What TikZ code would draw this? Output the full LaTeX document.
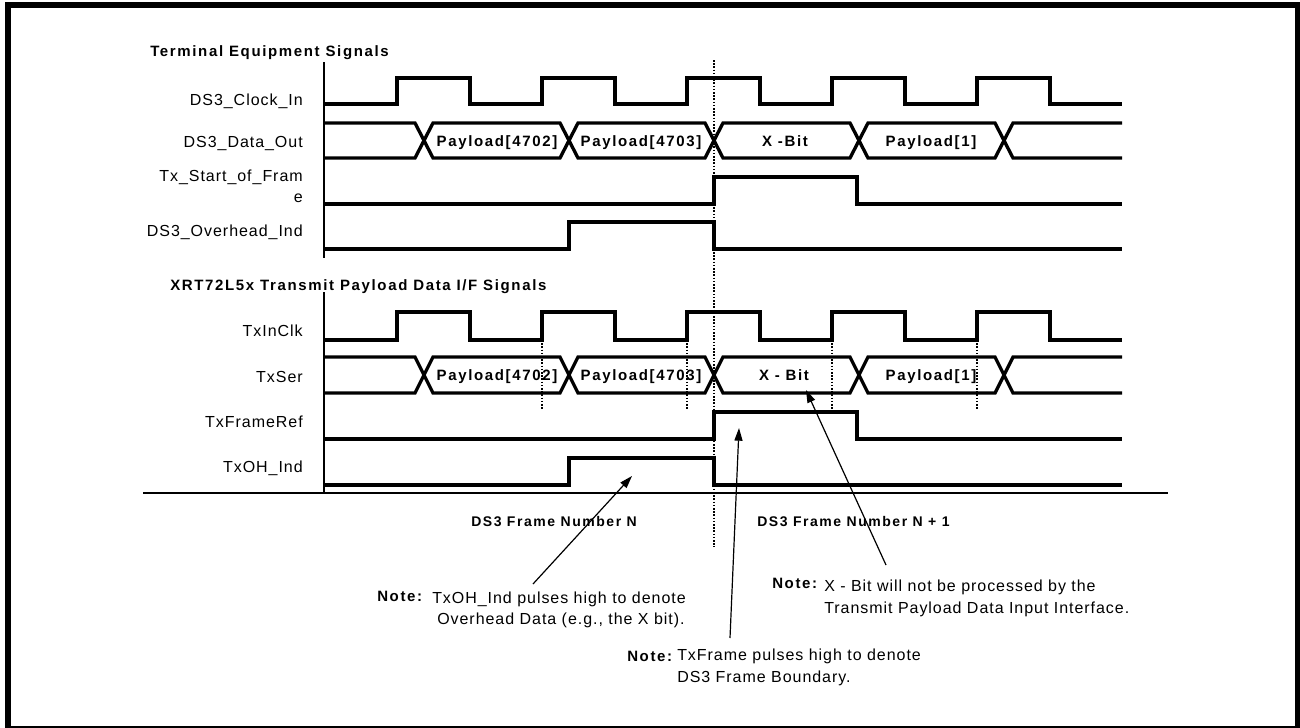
\documentclass[tikz,border=0pt]{standalone}
\usepackage{fontspec}
\setmainfont{Liberation Sans}
\newfontfamily\lblfont{Liberation Sans}[LetterSpace=6]
\newfontfamily\bldfont{Liberation Sans}[LetterSpace=11]
\usetikzlibrary{arrows.meta}
\tikzset{
  sig/.style={line width=2.5pt, line join=miter},
  axisline/.style={line width=1pt},
  dots/.style={line width=1pt, dash pattern=on 1.2pt off 1.2pt},
  arr/.style={line width=0.9pt, -{Triangle[length=9.5pt,width=6pt]}},
  lbl/.style={inner sep=0pt, anchor=base east, font=\lblfont\fontsize{12}{14}\selectfont},
  ntxt/.style={inner sep=0pt, anchor=base west, font=\lblfont\fontsize{12}{14}\selectfont},
  ttl/.style={inner sep=0pt, anchor=base west, font=\bldfont\bfseries\fontsize{11.25}{13}\selectfont},
  buslbl/.style={inner sep=0pt, anchor=base, font=\bldfont\bfseries\fontsize{11.25}{13}\selectfont},
  frm/.style={inner sep=0pt, anchor=base west, font=\bldfont\bfseries\fontsize{10.5}{12}\selectfont},
}
\begin{document}
\begin{tikzpicture}[x=0.75pt,y=-0.75pt]
\useasboundingbox (0,0) rectangle (1300,728);
\fill[white] (0,0) rectangle (1300,728);
\draw[line width=4.5pt] (8,5) rectangle (1298,729);

% titles
\node[ttl] (t1) at (150,56) {Terminal Equipment Signals};
\node[ttl] (t2) at (170,290) {XRT72L5x Transmit Payload Data I/F Signals};

% axes
\draw[axisline] (324,62) -- (324,258);
\draw[axisline] (324,292) -- (324,493);
\draw[line width=1.1pt] (143,493) -- (1168,493);

% frame boundary dotted line
\draw[dots] (714,60) -- (714,547);
\foreach \x in {542,687,832,977} \draw[dots] (\x,340) -- (\x,409);

% labels
\node[lbl] (l1) at (303,105) {DS3\_Clock\_In};
\node[lbl] (l2) at (303,147) {DS3\_Data\_Out};
\node[lbl] (l3a) at (303,181) {Tx\_Start\_of\_Fram};
\node[lbl] (l3b) at (303,202) {e};
\node[lbl] (l4) at (303,236) {DS3\_Overhead\_Ind};
\node[lbl] (l5) at (303,336) {TxInClk};
\node[lbl] (l6) at (303,382) {TxSer};
\node[lbl] (l7) at (303,427) {TxFrameRef};
\node[lbl] (l8) at (303,472) {TxOH\_Ind};

% clocks
\draw[sig] (324,104) \foreach \k in {0,...,4}{ -- ({397+145*\k},104) -- ({397+145*\k},78) -- ({470+145*\k},78) -- ({470+145*\k},104)} -- (1122,104);
\draw[sig] (324,340) \foreach \k in {0,...,4}{ -- ({397+145*\k},340) -- ({397+145*\k},312) -- ({470+145*\k},312) -- ({470+145*\k},340)} -- (1122,340);

% buses
\draw[sig] (324,123) -- (415,123) -- (433,158) -- (560,158) -- (578,123) -- (705,123) -- (723,158) -- (850,158) -- (868,123) -- (995,123) -- (1013,158) -- (1122,158);
\draw[sig] (324,158) -- (415,158) -- (433,123) -- (560,123) -- (578,158) -- (705,158) -- (723,123) -- (850,123) -- (868,158) -- (995,158) -- (1013,123) -- (1122,123);
\draw[sig] (324,357) -- (415,357) -- (433,393) -- (560,393) -- (578,357) -- (705,357) -- (723,393) -- (850,393) -- (868,357) -- (995,357) -- (1013,393) -- (1122,393);
\draw[sig] (324,393) -- (415,393) -- (433,357) -- (560,357) -- (578,393) -- (705,393) -- (723,357) -- (850,357) -- (868,393) -- (995,393) -- (1013,357) -- (1122,357);

\node[buslbl] (b1) at (497,146) {Payload[4702]};
\node[buslbl] (b2) at (641,146) {Payload[4703]};
\node[buslbl] (b3) at (785,146) {X -Bit};
\node[buslbl] (b4) at (931,146) {Payload[1]};
\node[buslbl] (b5) at (497,380) {Payload[4702]};
\node[buslbl] (b6) at (641,380) {Payload[4703]};
\node[buslbl] (b7) at (784,380) {X - Bit};
\node[buslbl] (b8) at (931,380) {Payload[1]};

% pulses
\draw[sig] (324,204) -- (714,204) -- (714,177) -- (857,177) -- (857,204) -- (1122,204);
\draw[sig] (324,249) -- (569,249) -- (569,222) -- (714,222) -- (714,249) -- (1122,249);
\draw[sig] (324,439) -- (714,439) -- (714,412) -- (857,412) -- (857,439) -- (1122,439);
\draw[sig] (324,485) -- (569,485) -- (569,458) -- (714,458) -- (714,485) -- (1122,485);

% frame numbers
\node[frm] (f1) at (471,526) {DS3 Frame Number N};
\node[frm] (f2) at (757,526) {DS3 Frame Number N + 1};

% notes
\node[ttl] (n1h) at (377,601) {Note:};
\node[ntxt] (n1a) at (432,603) {TxOH\_Ind pulses high to denote};
\node[ntxt] (n1b) at (437,624) {Overhead Data (e.g., the X bit).};
\node[ttl] (n2h) at (772,588) {Note:};
\node[ntxt] (n2a) at (824,591) {X - Bit will not be processed by the};
\node[ntxt] (n2b) at (824,613) {Transmit Payload Data Input Interface.};
\node[ttl] (n3h) at (627,661) {Note:};
\node[ntxt] (n3a) at (677,660) {TxFrame pulses high to denote};
\node[ntxt] (n3b) at (677,682) {DS3 Frame Boundary.};

% arrows
\coordinate (a1s) at (533,584); \coordinate (a1e) at (632,476);
\coordinate (a2s) at (730,638); \coordinate (a2e) at (739,428);
\coordinate (a3s) at (886,565); \coordinate (a3e) at (806,390);
\draw[arr] (a1s) -- (a1e);
\draw[arr] (a2s) -- (a2e);
\draw[arr] (a3s) -- (a3e);
\end{tikzpicture}
\end{document}
